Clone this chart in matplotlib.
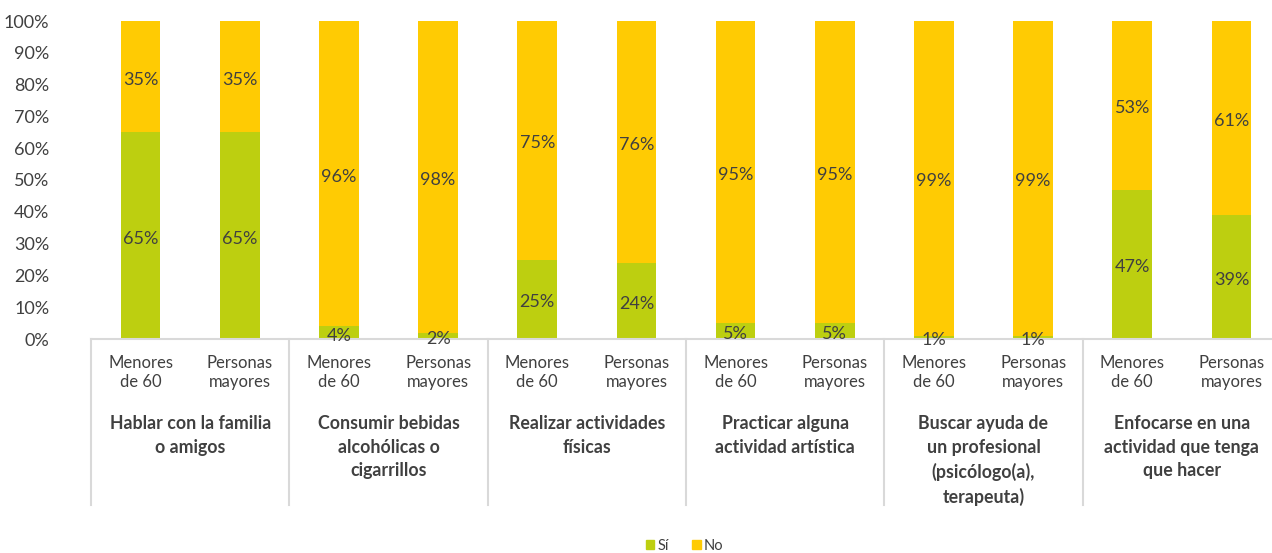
import matplotlib
matplotlib.use("Agg")
import matplotlib.pyplot as plt
import matplotlib.transforms as mtransforms
from matplotlib.patches import Patch
import numpy as np

plt.rcParams['font.family'] = ['Lato', 'DejaVu Sans']

# data
groups = ['Hablar con la familia\no amigos',
          'Consumir bebidas\nalcohólicas o\ncigarrillos',
          'Realizar actividades\nfísicas',
          'Practicar alguna\nactividad artística',
          'Buscar ayuda de\nun profesional\n(psicólogo(a),\nterapeuta)',
          'Enfocarse en una\nactividad que tenga\nque hacer']
subgroups = ['Menores\nde 60', 'Personas\nmayores']
si = [65, 65, 4, 2, 25, 24, 5, 5, 1, 1, 47, 39]
no = [35, 35, 96, 98, 75, 76, 95, 95, 99, 99, 53, 61]

green = '#BDCF10'
yellow = '#FFCB03'
txt = '#404040'
grid = '#D9D9D9'

fig = plt.figure(figsize=(12.72, 5.53), dpi=100)
# the plot area runs a little past the right edge of the picture
ax = fig.add_axes([91/1272, 1-339/553, 1190/1272, 318/553])

x = np.arange(len(si))
si_a = np.array(si)
no_a = np.array(no)
ax.bar(x, si_a, width=0.4, color=green, label='Sí')
ax.bar(x, no_a, width=0.4, bottom=si_a, color=yellow, label='No')

for xi, s, n in zip(x, si_a, no_a):
    ax.text(xi, s/2 - 0.9, f'{s}%', ha='center', va='center', fontsize=13, color=txt)
    ax.text(xi, s + n/2 - 0.9, f'{n}%', ha='center', va='center', fontsize=13, color=txt)

ax.set_xlim(-0.5, len(si) - 0.5)
ax.set_ylim(0, 100)
ax.set_yticks(np.arange(0, 101, 10))
ax.set_yticklabels([f'{v}%' for v in range(0, 101, 10)], fontsize=13, color=txt)
ax.tick_params(axis='y', length=0, pad=30)
ax.set_xticks([])
for s in ['top', 'right', 'left']:
    ax.spines[s].set_visible(False)
ax.spines['bottom'].set_color(grid)
ax.spines['bottom'].set_linewidth(1.5)

trans = mtransforms.blended_transform_factory(ax.transData, ax.transAxes)
for xi in x:
    ax.text(xi, -0.105, subgroups[xi % 2], transform=trans, ha='center', va='center',
            fontsize=12, color=txt, linespacing=1.25)
for g, lab in enumerate(groups):
    ax.text(2*g + 0.5, -0.24, lab, transform=trans, ha='center', va='top',
            fontsize=12.8, fontweight='bold', color=txt, linespacing=1.47)
for b in np.arange(-0.5, len(si), 2):
    ax.plot([b, b], [0, -0.522], transform=trans, color=grid, lw=1.5, clip_on=False)

handles = [Patch(color=green, label='Sí'), Patch(color=yellow, label='No')]
fig.legend(handles=handles, loc='center', bbox_to_anchor=(0.538, 1-546/553), ncol=2,
           frameon=False, fontsize=10.5, handlelength=0.6, handleheight=0.6,
           handletextpad=0.2, columnspacing=1.6, labelcolor=txt)

fig.savefig('out.png', dpi=100)
